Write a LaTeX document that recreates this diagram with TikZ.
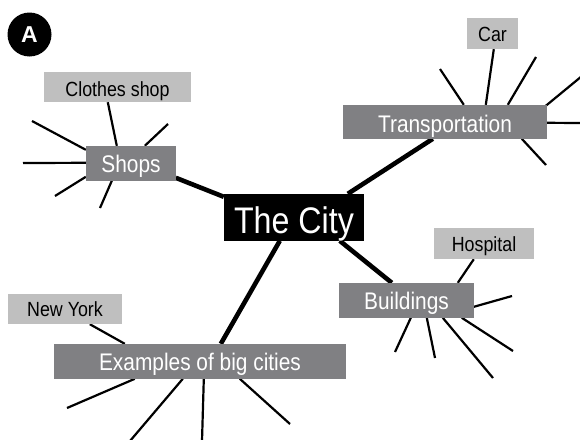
\documentclass[tikz,border=0pt]{standalone}
\usepackage{fontspec}
\setmainfont{Liberation Sans}[FakeStretch=0.87]
\newfontfamily\badgefont{Liberation Sans}
\usetikzlibrary{calc}
\pgfdeclarelayer{background}
\pgfsetlayers{background,main}
\definecolor{hubgray}{RGB}{128,128,131}
\definecolor{leafgray}{RGB}{191,191,191}
\begin{document}
\begin{tikzpicture}[x=1pt,y=-1pt,
  hub/.style={fill=hubgray,text=white,inner sep=0pt,font=\fontsize{24}{28}\selectfont},
  leaf/.style={fill=leafgray,text=black,inner sep=0pt,font=\fontsize{20.5}{24}\selectfont},
  spoke/.style={line width=2.2pt},
  trunk/.style={line width=4.6pt}]
\useasboundingbox (0,0) rectangle (580,439);
\node[fill=black,circle,inner sep=0pt,minimum size=44pt,text=white,font=\badgefont\bfseries\fontsize{23}{26}\selectfont] (badge) at (29.5,34.5) {A};

\node[fill=black,text=white,inner sep=0pt,minimum width=140pt,minimum height=47pt,text height=39pt,text depth=8pt,font=\fontsize{37}{42}\selectfont] (city) at (294,217.5) {The City};

\node[hub,minimum width=204pt,minimum height=34pt,text height=27pt,text depth=7pt] (trans) at (445,122) {Transportation};
\node[hub,minimum width=90pt,minimum height=35pt,text height=26.5pt,text depth=8.5pt] (shops) at (131,163.5) {Shops};
\node[hub,minimum width=135pt,minimum height=35pt,text height=26.5pt,text depth=8.5pt] (build) at (406.5,300.5) {Buildings};
\node[hub,minimum width=292pt,minimum height=35pt,text height=26pt,text depth=9pt] (examples) at (200,361.5) {Examples of big cities};

\node[leaf,minimum width=51pt,minimum height=31pt,text height=23pt,text depth=8pt] (car) at (492.5,33.5) {Car};
\node[leaf,minimum width=147pt,minimum height=30pt,text height=24pt,text depth=6pt] (clothes) at (117.5,87) {Clothes shop};
\node[leaf,minimum width=100pt,minimum height=31pt,text height=23pt,text depth=8pt] (hosp) at (484,243.5) {Hospital};
\node[leaf,minimum width=114pt,minimum height=30pt,text height=22pt,text depth=8pt] (ny) at (65,309) {New York};

\coordinate (s1) at (32,121);
\coordinate (s2) at (23,163);
\coordinate (s3) at (55,196);
\coordinate (s4) at (100,208);
\coordinate (s5) at (168,124);
\coordinate (t1) at (440,69);
\coordinate (t2) at (536,57);
\coordinate (t3) at (582,76);
\coordinate (t4) at (582,123);
\coordinate (t5) at (546,165);
\coordinate (b1) at (512,296);
\coordinate (b2) at (513,351);
\coordinate (b3) at (493,378);
\coordinate (b4) at (435,358);
\coordinate (b5) at (395,352);
\coordinate (e1) at (67,408);
\coordinate (e2) at (130,441);
\coordinate (e3) at (202,441);
\coordinate (e4) at (290,424);

\begin{pgfonlayer}{background}
% Shops
\draw[spoke] ($(shops.north west)+(31,0)$) -- ($(clothes.south west)+(64,0)$);
\draw[spoke] ($(shops.north west)+(0,4)$) -- (s1);
\draw[spoke] ($(shops.north west)+(0,17)$) -- (s2);
\draw[spoke] ($(shops.north west)+(0,31)$) -- (s3);
\draw[spoke] ($(shops.north west)+(26,35)$) -- (s4);
\draw[spoke] ($(shops.north west)+(59,0)$) -- (s5);
% Transportation
\draw[spoke] ($(trans.north west)+(143,0)$) -- ($(car.south west)+(27,0)$);
\draw[spoke] ($(trans.north west)+(121,0)$) -- (t1);
\draw[spoke] ($(trans.north west)+(165,0)$) -- (t2);
\draw[spoke] ($(trans.north west)+(203,1)$) -- (t3);
\draw[spoke] ($(trans.north west)+(204,18)$) -- (t4);
\draw[spoke] ($(trans.north west)+(179,34)$) -- (t5);
% Buildings
\draw[spoke] ($(build.north west)+(119,0)$) -- ($(hosp.south west)+(40,0)$);
\draw[spoke] ($(build.north west)+(135,24)$) -- (b1);
\draw[spoke] ($(build.north west)+(123,35)$) -- (b2);
\draw[spoke] ($(build.north west)+(104,35)$) -- (b3);
\draw[spoke] ($(build.north west)+(88,35)$) -- (b4);
\draw[spoke] ($(build.north west)+(72,35)$) -- (b5);
% Examples
\draw[spoke] ($(examples.north west)+(71,0)$) -- ($(ny.south west)+(82,0)$);
\draw[spoke] ($(examples.north west)+(81,35)$) -- (e1);
\draw[spoke] ($(examples.north west)+(129,35)$) -- (e2);
\draw[spoke] ($(examples.north west)+(150,35)$) -- (e3);
\draw[spoke] ($(examples.north west)+(186,35)$) -- (e4);
% Trunks
\draw[trunk] ($(shops.north west)+(90,32)$) -- ($(city.north west)+(0,3)$);
\draw[trunk] ($(trans.north west)+(90,34)$) -- ($(city.north west)+(124,0)$);
\draw[trunk] ($(city.north west)+(116,47)$) -- ($(build.north west)+(53,0)$);
\draw[trunk] ($(examples.north west)+(167,0)$) -- ($(city.north west)+(56,47)$);
\end{pgfonlayer}
\end{tikzpicture}
\end{document}
